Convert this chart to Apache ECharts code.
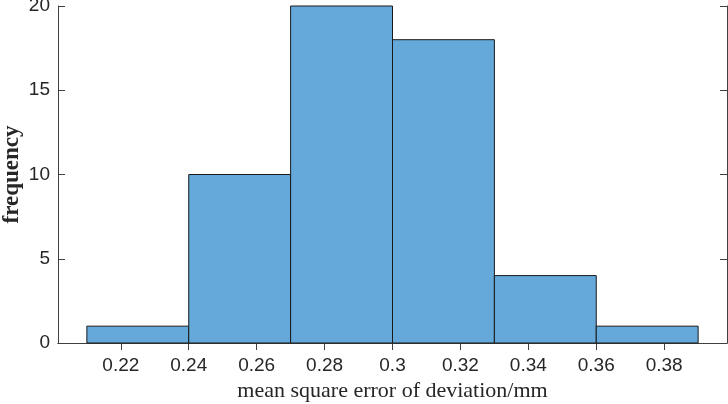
<!DOCTYPE html>
<html>
<head>
<meta charset="utf-8">
<script src="https://cdn.jsdelivr.net/npm/echarts@6/dist/echarts.min.js"></script>
<style>
html,body{margin:0;padding:0;background:#fff;}
#main{width:728px;height:404px;}
</style>
</head>
<body>
<div id="main"></div>
<script>
// histogram bins (left edges), bin width and counts
var binStart = [0.21, 0.24, 0.27, 0.30, 0.33, 0.36];
var binWidth = 0.03;
var counts = [1, 10, 20, 18, 4, 1];
var xTicks = [0.22, 0.24, 0.26, 0.28, 0.3, 0.32, 0.34, 0.36, 0.38];
var yTicks = [0, 5, 10, 15, 20];

var myChart = echarts.init(document.getElementById('main'));

var axisColor = '#404040';
var data = [];
for (var i = 0; i < counts.length; i++) {
    data.push([binStart[i], binStart[i] + binWidth, counts[i]]);
}

var option = {
    animation: false,
    grid: { left: 58, right: 1, top: 6, bottom: 61, outerBoundsMode: 'none', containLabel: false },
    xAxis: [{
        type: 'value',
        min: 0.2015,
        max: 0.3985,
        position: 'bottom',
        name: 'mean square error of deviation/mm',
        nameLocation: 'middle',
        nameGap: 37,
        nameMoveOverlap: false,
        nameTextStyle: { fontFamily: 'Liberation Serif', fontSize: 22, color: '#262626' },
        axisLine: { show: true, lineStyle: { color: axisColor } },
        axisTick: { show: true, inside: true, length: 7, customValues: xTicks, lineStyle: { color: axisColor } },
        axisLabel: { customValues: xTicks, fontFamily: 'Liberation Sans', fontSize: 19, color: '#262626', margin: 13,
            formatter: function (v) { return String(v); } },
        splitLine: { show: false }
    }, {
        type: 'value',
        min: 0.2015,
        max: 0.3985,
        position: 'top',
        axisLine: { show: true, lineStyle: { color: axisColor } },
        axisTick: { show: true, inside: true, length: 7, customValues: xTicks, lineStyle: { color: axisColor } },
        axisLabel: { show: false },
        splitLine: { show: false }
    }],
    yAxis: [{
        type: 'value',
        min: 0,
        max: 20,
        interval: 5,
        position: 'left',
        name: 'frequency',
        nameLocation: 'middle',
        nameGap: 34,
        nameMoveOverlap: false,
        nameTextStyle: { fontFamily: 'Liberation Serif', fontSize: 23, fontWeight: 'bold', color: '#262626' },
        axisLine: { show: true, lineStyle: { color: axisColor } },
        axisTick: { show: true, inside: true, length: 7, lineStyle: { color: axisColor } },
        axisLabel: { fontFamily: 'Liberation Sans', fontSize: 19, color: '#262626', margin: 8 },
        splitLine: { show: false }
    }, {
        type: 'value',
        min: 0,
        max: 20,
        interval: 5,
        position: 'right',
        axisLine: { show: true, lineStyle: { color: axisColor } },
        axisTick: { show: true, inside: true, length: 7, lineStyle: { color: axisColor } },
        axisLabel: { show: false },
        splitLine: { show: false }
    }],
    series: [{
        type: 'custom',
        xAxisIndex: 0,
        yAxisIndex: 0,
        data: data,
        encode: { x: [0, 1], y: 2 },
        renderItem: function (params, api) {
            var p0 = api.coord([api.value(0), 0]);
            var p1 = api.coord([api.value(1), api.value(2)]);
            return {
                type: 'rect',
                shape: { x: p0[0], y: p1[1], width: p1[0] - p0[0], height: p0[1] - p1[1] },
                style: { fill: '#64a9d9', stroke: '#1a1a1a', lineWidth: 1 }
            };
        }
    }]
};

myChart.setOption(option);
</script>
</body>
</html>
